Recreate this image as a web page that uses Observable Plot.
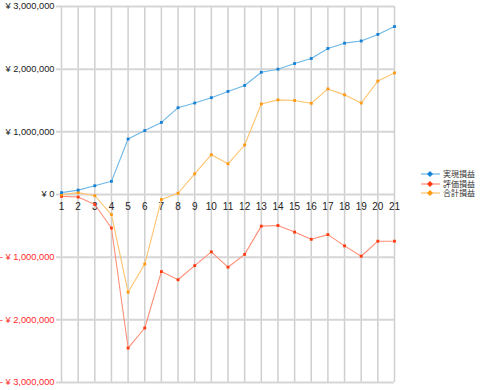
<!DOCTYPE html>
<html><head><meta charset="utf-8">
<script src="https://cdn.jsdelivr.net/npm/d3@7"></script>
<script src="https://cdn.jsdelivr.net/npm/@observablehq/plot@0.6"></script>
<style>
body{margin:0;background:#fff;}
#chart{position:relative;width:480px;height:390px;}
#legend{position:absolute;left:421px;top:169px;font-family:'Noto Sans CJK JP',sans-serif;font-size:8px;color:#333;line-height:9.7px;}
#legend .row{display:flex;align-items:center;height:9.7px;white-space:nowrap;}
#legend svg{display:block;margin-right:2px;}
</style>
</head><body><div id="chart"><div id="legend"></div></div>
<script>
const days = [1,2,3,4,5,6,7,8,9,10,11,12,13,14,15,16,17,18,19,20,21];
const realized = [30000,70000,140000,210000,885000,1020000,1150000,1385000,1460000,1545000,1645000,1740000,1950000,2000000,2090000,2170000,2330000,2415000,2450000,2555000,2680000];
const unrealized = [-30000,-40000,-160000,-535000,-2450000,-2130000,-1230000,-1360000,-1135000,-915000,-1160000,-955000,-505000,-495000,-600000,-715000,-640000,-820000,-985000,-745000,-745000];
const total = [0,30000,-20000,-320000,-1560000,-1110000,-80000,20000,330000,635000,490000,790000,1445000,1510000,1500000,1455000,1685000,1590000,1460000,1810000,1940000];
const seriesNames = ["実現損益","評価損益","合計損益"];
const yTicks = [-3000000,-2000000,-1000000,0,1000000,2000000,3000000];

const lineColors = ["#6cb7e6","#ff8f78","#ffc36e"];
const dotColors = ["#1582d8","#ff3a10","#ff9a10"];
const seriesVals = [realized, unrealized, total];
const rows = seriesVals.map((vals,s)=>vals.map((v,i)=>({day:days[i], v, s})));

const fmt = d3.format(",");
const yLabel = v => v < 0 ? "- ¥ " + fmt(-v) : "¥ " + fmt(v);

const marks = [
  Plot.gridX(days, {x: d=>d, stroke:"#cfcfcf", strokeOpacity:1, strokeWidth:1.5}),
  Plot.ruleY(yTicks, {y: d=>d, x1: 0.7, x2: 21, stroke:"#d6d6d6", strokeWidth:2}),
  Plot.text(yTicks, {x: 1, y: d=>d, dx: -7, text: yLabel, textAnchor:"end", fill: d=> d<0 ? "#ff2a2a" : "#222", fontSize: 9.3}),
  Plot.text(days, {x: d=>d, y: 0, dy: 12, text: d=>String(d), fill:"#222", fontSize:10})
];
[1,2,0].forEach(s=>{
  marks.push(Plot.line(rows[s], {x:"day", y:"v", stroke: lineColors[s], strokeWidth:1.1}));
  marks.push(Plot.dot(rows[s], {x:"day", y:"v", fill: dotColors[s], r:1.6, symbol:"square"}));
});
const chart = Plot.plot({
  width: 480, height: 390,
  marginLeft: 61, marginRight: 86, marginTop: 6, marginBottom: 8,
  x: {domain:[1,21], axis:null},
  y: {domain:[-3000000,3000000], axis:null},
  style: {fontFamily: "'Liberation Sans', Arial, 'Noto Sans CJK JP', sans-serif", background:"#fff"},
  clip: false,
  marks
});
document.getElementById("chart").insertBefore(chart, document.getElementById("legend"));

// legend (HTML)
const legend = d3.select("#legend");
seriesNames.forEach((name,i)=>{
  const row = legend.append("div").attr("class","row");
  const s = row.append("svg").attr("width",20).attr("height",8);
  s.append("line").attr("x1",0).attr("x2",19).attr("y1",4).attr("y2",4).attr("stroke",lineColors[i]).attr("stroke-width",1.2);
  s.append("path").attr("d","M9,1L12,4L9,7L6,4Z").attr("fill",dotColors[i]);
  row.append("span").text(name);
});
</script></body></html>
